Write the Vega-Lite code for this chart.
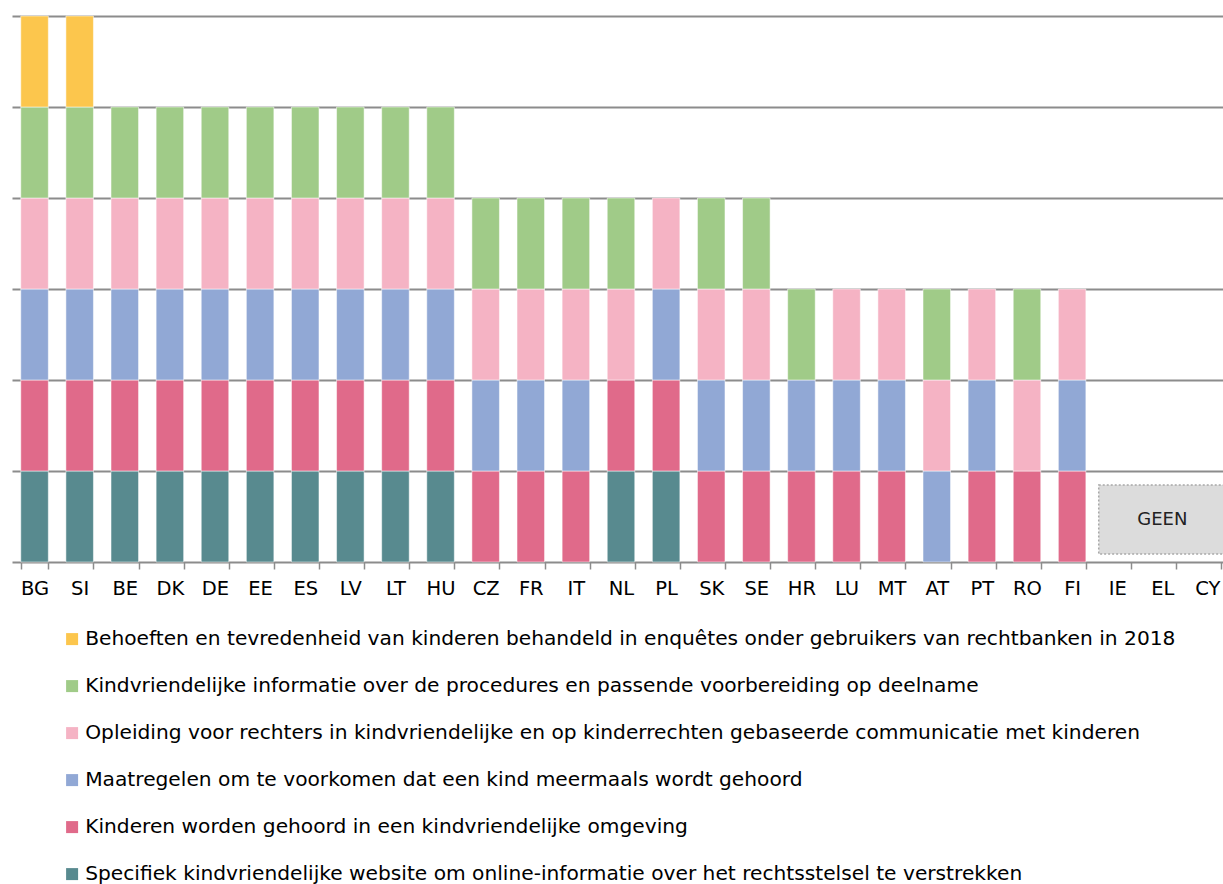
{
  "$schema": "https://vega.github.io/schema/vega-lite/v6.json",
  "width": 1218,
  "height": 546,
  "padding": {"left": 12, "top": 15, "right": 0, "bottom": 0},
  "autosize": {"type": "pad"},
  "background": "white",
  "config": {"view": {"stroke": null}, "font": "DejaVu Sans"},
  "datasets": {
    "cats": [
      {"c": "Y", "o": 6, "label": "Behoeften en tevredenheid van kinderen behandeld in enquêtes onder gebruikers van rechtbanken in 2018"},
      {"c": "G", "o": 5, "label": "Kindvriendelijke informatie over de procedures en passende voorbereiding op deelname"},
      {"c": "P", "o": 4, "label": "Opleiding voor rechters in kindvriendelijke en op kinderrechten gebaseerde communicatie met kinderen"},
      {"c": "B", "o": 3, "label": "Maatregelen om te voorkomen dat een kind meermaals wordt gehoord"},
      {"c": "R", "o": 2, "label": "Kinderen worden gehoord in een kindvriendelijke omgeving"},
      {"c": "T", "o": 1, "label": "Specifiek kindvriendelijke website om online-informatie over het rechtsstelsel te verstrekken"}
    ]
  },
  "layer": [
    {
      "data": {"values": [
        {"land": "BG", "c": "T", "v": 1}, {"land": "BG", "c": "R", "v": 1}, {"land": "BG", "c": "B", "v": 1}, {"land": "BG", "c": "P", "v": 1}, {"land": "BG", "c": "G", "v": 1}, {"land": "BG", "c": "Y", "v": 1},
        {"land": "SI", "c": "T", "v": 1}, {"land": "SI", "c": "R", "v": 1}, {"land": "SI", "c": "B", "v": 1}, {"land": "SI", "c": "P", "v": 1}, {"land": "SI", "c": "G", "v": 1}, {"land": "SI", "c": "Y", "v": 1},
        {"land": "BE", "c": "T", "v": 1}, {"land": "BE", "c": "R", "v": 1}, {"land": "BE", "c": "B", "v": 1}, {"land": "BE", "c": "P", "v": 1}, {"land": "BE", "c": "G", "v": 1},
        {"land": "DK", "c": "T", "v": 1}, {"land": "DK", "c": "R", "v": 1}, {"land": "DK", "c": "B", "v": 1}, {"land": "DK", "c": "P", "v": 1}, {"land": "DK", "c": "G", "v": 1},
        {"land": "DE", "c": "T", "v": 1}, {"land": "DE", "c": "R", "v": 1}, {"land": "DE", "c": "B", "v": 1}, {"land": "DE", "c": "P", "v": 1}, {"land": "DE", "c": "G", "v": 1},
        {"land": "EE", "c": "T", "v": 1}, {"land": "EE", "c": "R", "v": 1}, {"land": "EE", "c": "B", "v": 1}, {"land": "EE", "c": "P", "v": 1}, {"land": "EE", "c": "G", "v": 1},
        {"land": "ES", "c": "T", "v": 1}, {"land": "ES", "c": "R", "v": 1}, {"land": "ES", "c": "B", "v": 1}, {"land": "ES", "c": "P", "v": 1}, {"land": "ES", "c": "G", "v": 1},
        {"land": "LV", "c": "T", "v": 1}, {"land": "LV", "c": "R", "v": 1}, {"land": "LV", "c": "B", "v": 1}, {"land": "LV", "c": "P", "v": 1}, {"land": "LV", "c": "G", "v": 1},
        {"land": "LT", "c": "T", "v": 1}, {"land": "LT", "c": "R", "v": 1}, {"land": "LT", "c": "B", "v": 1}, {"land": "LT", "c": "P", "v": 1}, {"land": "LT", "c": "G", "v": 1},
        {"land": "HU", "c": "T", "v": 1}, {"land": "HU", "c": "R", "v": 1}, {"land": "HU", "c": "B", "v": 1}, {"land": "HU", "c": "P", "v": 1}, {"land": "HU", "c": "G", "v": 1},
        {"land": "CZ", "c": "R", "v": 1}, {"land": "CZ", "c": "B", "v": 1}, {"land": "CZ", "c": "P", "v": 1}, {"land": "CZ", "c": "G", "v": 1},
        {"land": "FR", "c": "R", "v": 1}, {"land": "FR", "c": "B", "v": 1}, {"land": "FR", "c": "P", "v": 1}, {"land": "FR", "c": "G", "v": 1},
        {"land": "IT", "c": "R", "v": 1}, {"land": "IT", "c": "B", "v": 1}, {"land": "IT", "c": "P", "v": 1}, {"land": "IT", "c": "G", "v": 1},
        {"land": "NL", "c": "T", "v": 1}, {"land": "NL", "c": "R", "v": 1}, {"land": "NL", "c": "P", "v": 1}, {"land": "NL", "c": "G", "v": 1},
        {"land": "PL", "c": "T", "v": 1}, {"land": "PL", "c": "R", "v": 1}, {"land": "PL", "c": "B", "v": 1}, {"land": "PL", "c": "P", "v": 1},
        {"land": "SK", "c": "R", "v": 1}, {"land": "SK", "c": "B", "v": 1}, {"land": "SK", "c": "P", "v": 1}, {"land": "SK", "c": "G", "v": 1},
        {"land": "SE", "c": "R", "v": 1}, {"land": "SE", "c": "B", "v": 1}, {"land": "SE", "c": "P", "v": 1}, {"land": "SE", "c": "G", "v": 1},
        {"land": "HR", "c": "R", "v": 1}, {"land": "HR", "c": "B", "v": 1}, {"land": "HR", "c": "G", "v": 1},
        {"land": "LU", "c": "R", "v": 1}, {"land": "LU", "c": "B", "v": 1}, {"land": "LU", "c": "P", "v": 1},
        {"land": "MT", "c": "R", "v": 1}, {"land": "MT", "c": "B", "v": 1}, {"land": "MT", "c": "P", "v": 1},
        {"land": "AT", "c": "B", "v": 1}, {"land": "AT", "c": "P", "v": 1}, {"land": "AT", "c": "G", "v": 1},
        {"land": "PT", "c": "R", "v": 1}, {"land": "PT", "c": "B", "v": 1}, {"land": "PT", "c": "P", "v": 1},
        {"land": "RO", "c": "R", "v": 1}, {"land": "RO", "c": "P", "v": 1}, {"land": "RO", "c": "G", "v": 1},
        {"land": "FI", "c": "R", "v": 1}, {"land": "FI", "c": "B", "v": 1}, {"land": "FI", "c": "P", "v": 1}
      ]},
      "transform": [
        {"lookup": "c", "from": {"data": {"name": "cats"}, "key": "c", "fields": ["label", "o"]}}
      ],
      "mark": {"type": "bar", "stroke": "white", "strokeWidth": 0.5},
      "encoding": {
        "x": {
          "field": "land", "type": "nominal",
          "scale": {"domain": ["BG","SI","BE","DK","DE","EE","ES","LV","LT","HU","CZ","FR","IT","NL","PL","SK","SE","HR","LU","MT","AT","PT","RO","FI","IE","EL","CY"], "paddingInner": 0.39, "paddingOuter": 0.195},
          "axis": {"title": null, "labelAngle": 0, "labelFontSize": 19.5, "labelColor": "#000000", "labelPadding": 10, "tickBand": "extent", "tickColor": "#8c8c8c", "tickSize": 7, "tickWidth": 1.5, "domainColor": "#8c8c8c", "domainWidth": 2, "grid": false}
        },
        "y": {
          "field": "v", "type": "quantitative", "aggregate": "sum", "stack": "zero",
          "scale": {"domain": [0, 6], "nice": false},
          "axis": {"title": null, "labels": false, "ticks": false, "domain": false, "values": [1, 2, 3, 4, 5, 6], "grid": true, "gridColor": "#8c8c8c", "gridWidth": 2}
        },
        "color": {
          "field": "label", "type": "nominal",
          "scale": {
            "domain": [
              "Behoeften en tevredenheid van kinderen behandeld in enquêtes onder gebruikers van rechtbanken in 2018",
              "Kindvriendelijke informatie over de procedures en passende voorbereiding op deelname",
              "Opleiding voor rechters in kindvriendelijke en op kinderrechten gebaseerde communicatie met kinderen",
              "Maatregelen om te voorkomen dat een kind meermaals wordt gehoord",
              "Kinderen worden gehoord in een kindvriendelijke omgeving",
              "Specifiek kindvriendelijke website om online-informatie over het rechtsstelsel te verstrekken"
            ],
            "range": ["#FCC64D", "#A0CB88", "#F5B3C4", "#91A8D5", "#E06A8A", "#588A8F"]
          },
          "legend": {
            "title": null, "orient": "none", "legendX": 50, "legendY": 613, "direction": "vertical", "columns": 1,
            "symbolType": "square", "symbolSize": 144, "symbolStrokeWidth": 0, "labelFontSize": 20.2, "labelColor": "#000000",
            "labelLimit": 2000, "labelOffset": 3, "rowPadding": 26, "padding": 0
          }
        },
        "order": {"field": "o", "type": "quantitative"}
      }
    },
    {
      "data": {"values": [{"x1": 24.09, "x2": 26.91, "y1": 0.088, "y2": 0.846}]},
      "mark": {"type": "rect", "fill": "#dcdcdc", "stroke": "#a8a8a8", "strokeWidth": 1.5, "strokeDash": [2, 2]},
      "encoding": {
        "x": {"field": "x1", "type": "quantitative", "scale": {"domain": [0, 27], "nice": false, "zero": false}, "axis": null},
        "x2": {"field": "x2"},
        "y": {"field": "y1", "type": "quantitative"},
        "y2": {"field": "y2"}
      }
    },
    {
      "data": {"values": [{"x": 25.5, "y": 0.467, "t": "GEEN"}]},
      "mark": {"type": "text", "fontSize": 18, "color": "#222222", "align": "center", "baseline": "middle"},
      "encoding": {
        "x": {"field": "x", "type": "quantitative", "scale": {"domain": [0, 27], "nice": false, "zero": false}, "axis": null},
        "y": {"field": "y", "type": "quantitative"},
        "text": {"field": "t"}
      }
    }
  ],
  "resolve": {"scale": {"x": "independent"}}
}
